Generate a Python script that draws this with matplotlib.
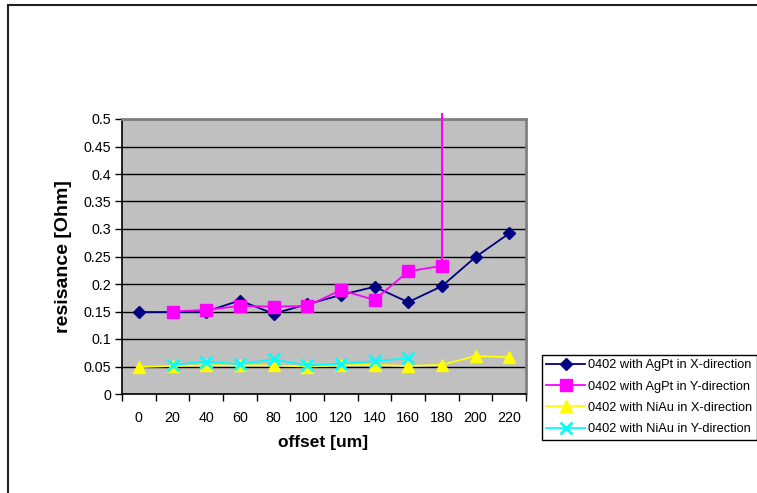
import numpy as np
import matplotlib.pyplot as plt
from matplotlib.patches import Rectangle

plt.rcParams['font.family'] = ['Liberation Sans', 'DejaVu Sans']

# Data ==================================================================================================================
# =======================================================================================================================

offsets = ["0", "20", "40", "60", "80", "100", "120", "140", "160", "180", "200", "220"]

agpt_x = [0.149, 0.149, 0.150, 0.170, 0.146, 0.163, 0.180, 0.195, 0.167, 0.196, 0.249, 0.292]
agpt_y = [None, 0.150, 0.153, 0.160, 0.159, 0.160, 0.189, 0.171, 0.223, 0.233, None, None]
niau_x = [0.049, 0.051, 0.052, 0.052, 0.052, 0.050, 0.052, 0.053, 0.051, 0.053, 0.069, 0.067]
niau_y = [None, 0.053, 0.059, 0.054, 0.063, 0.052, 0.055, 0.060, 0.065, None, None, None]

# the AgPt Y series shoots off the scale after 180 um
agpt_y_spike = [0.233, 0.509]

labels = ["0402 with AgPt in X-direction", "0402 with AgPt in Y-direction",
          "0402 with NiAu in X-direction", "0402 with NiAu in Y-direction"]

# Plot ==================================================================================================================
# =======================================================================================================================

def to_arr(vals):
    return np.array([np.nan if v is None else v for v in vals], dtype=float)

fig = plt.figure(figsize=(7.57, 4.93), dpi=100)
fig.patches.append(Rectangle((8 / 757, -0.1), 1.2, (493 - 5) / 493 + 0.1, transform=fig.transFigure,
                             fill=False, edgecolor='#202020', linewidth=1.5))

ax = fig.add_axes([122 / 757, 1 - 394 / 493, 404 / 757, 275 / 493])
ax.set_facecolor('#C0C0C0')

x = np.arange(len(offsets))
ax.plot(x, to_arr(agpt_x), color='#000080', marker='D', markersize=6, linewidth=1.3, label=labels[0], clip_on=False, zorder=4)
ax.plot(x, to_arr(agpt_y), color='#FF00FF', marker='s', markersize=8, linewidth=1.3, label=labels[1], clip_on=False, zorder=5)
ax.plot([x[9], x[9]], agpt_y_spike, color='#FF00FF', linewidth=1.5, clip_on=False, zorder=5)
ax.plot(x, to_arr(niau_x), color='#FFFF00', marker='^', markersize=8, linewidth=1.3, label=labels[2], clip_on=False, zorder=3)
ax.plot(x, to_arr(niau_y), color='#00FFFF', marker='x', markersize=8, markeredgewidth=2, linewidth=1.3, label=labels[3], clip_on=False, zorder=3)

ax.set_xlim(-0.5, len(offsets) - 0.5)
ax.set_ylim(0, 0.5)
ax.set_yticks(np.arange(0, 0.501, 0.05))
ax.set_yticklabels(["0", "0.05", "0.1", "0.15", "0.2", "0.25", "0.3", "0.35", "0.4", "0.45", "0.5"])
ax.yaxis.grid(True, color='black', linewidth=1)
ax.set_axisbelow(True)

ax.set_xticks(x)
ax.set_xticklabels(offsets)
ax.set_xticks(np.arange(-0.5, len(offsets)), minor=True)
ax.tick_params(axis='x', which='major', length=0, pad=12, labelsize=10.3)
ax.tick_params(axis='x', which='minor', length=5, width=1, direction='out')
ax.tick_params(axis='y', length=5, width=1, direction='out', pad=3, labelsize=10.3)

for side in ['top', 'right']:
    ax.spines[side].set_color('#808080')
    ax.spines[side].set_linewidth(2)
for side in ['left', 'bottom']:
    ax.spines[side].set_color('black')
    ax.spines[side].set_linewidth(1.2)

fig.text(63 / 757, 1 - 257 / 493, "resisance [Ohm]", rotation=90, ha='center', va='center',
         fontsize=14, fontweight='bold')
fig.text(323 / 757, 1 - 443 / 493, "offset [um]", ha='center', va='center',
         fontsize=12.5, fontweight='bold')

leg = ax.legend(loc='upper left', bbox_to_anchor=(542 / 757, 1 - 355 / 493), bbox_transform=fig.transFigure,
                fontsize=9.2, frameon=True, fancybox=False, edgecolor='black', framealpha=1,
                handlelength=3.0, handletextpad=0.25, borderpad=0.35, labelspacing=0.72, borderaxespad=0)
leg.get_frame().set_linewidth(1)

fig.savefig("out.png", dpi=100)
